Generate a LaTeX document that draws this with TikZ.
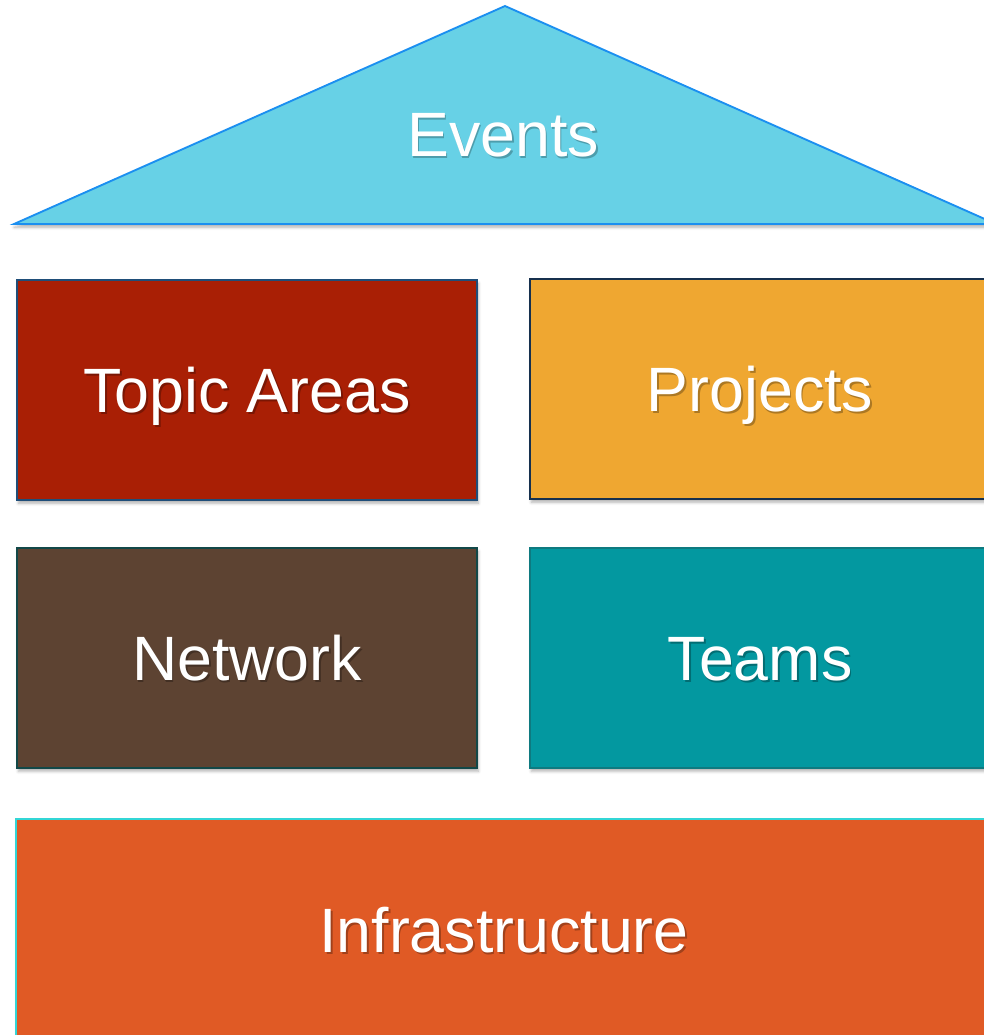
\documentclass[tikz,border=0pt]{standalone}
\usepackage{fontspec}
\setmainfont{Liberation Sans}
\usetikzlibrary{shadows.blur}

\definecolor{roof}{RGB}{103,209,230}
\definecolor{roofline}{RGB}{27,143,240}
\definecolor{topic}{RGB}{169,31,5}
\definecolor{projects}{RGB}{239,167,49}
\definecolor{network}{RGB}{93,67,50}
\definecolor{teams}{RGB}{3,152,160}
\definecolor{infra}{RGB}{224,90,37}

% white text with a soft shadow below it, capitals centred on the node
\newcommand{\shadowed}[2]{\raisebox{-0.358em}[0pt][0pt]{\rlap{\hspace{1.3pt}\raisebox{-1.5pt}{\color{#1}#2}}#2}}

\begin{document}
\begin{tikzpicture}[x = 0.75pt, y = -0.75pt, font = \fontsize{47}{56}\selectfont,
	block/.style = {rectangle, minimum width = 345pt, minimum height = 165pt,
		inner sep = 0pt, line width = 1.4pt, text = white,
		blur shadow = {shadow xshift = 1pt, shadow yshift = -2.5pt, shadow opacity = 30}}]

	\path [use as bounding box, clip] (0, 0) rectangle (984, 1035);

	% Roof
	
	\draw [fill = roof, draw = roofline, line width = 1.4pt, line join = miter,
		blur shadow = {shadow xshift = 0pt, shadow yshift = -2.5pt, shadow opacity = 30}]
		(14, 224) -- (505, 6) -- (996, 224) -- cycle;
	\node (events) [text = white, inner sep = 0pt] at (503, 134) {\shadowed{roof!75!black}{Events}};
	
	% Middle floors
	
	\node (topic) [block, fill = topic, draw = {rgb,255:red,31;green,78;blue,121}] at (247, 390) {\shadowed{topic!72!black}{Topic Areas}};
	\node (projects) [block, fill = projects, draw = {rgb,255:red,22;green,48;blue,78}] at (760, 389) {\shadowed{projects!72!black}{Projects}};
	
	\node (network) [block, fill = network, draw = {rgb,255:red,18;green,72;blue,72}] at (247, 658) {\shadowed{network!72!black}{Network}};
	\node (teams) [block, fill = teams, draw = {rgb,255:red,14;green,122;blue,128}] at (760, 658) {\shadowed{teams!72!black}{Teams}};
	
	% Ground floor
	
	\node (infra) [block, minimum width = 732pt, minimum height = 167pt, fill = infra, draw = {rgb,255:red,51;green,214;blue,214}] at (504, 930) {\shadowed{infra!72!black}{Infrastructure}};

\end{tikzpicture}
\end{document}
